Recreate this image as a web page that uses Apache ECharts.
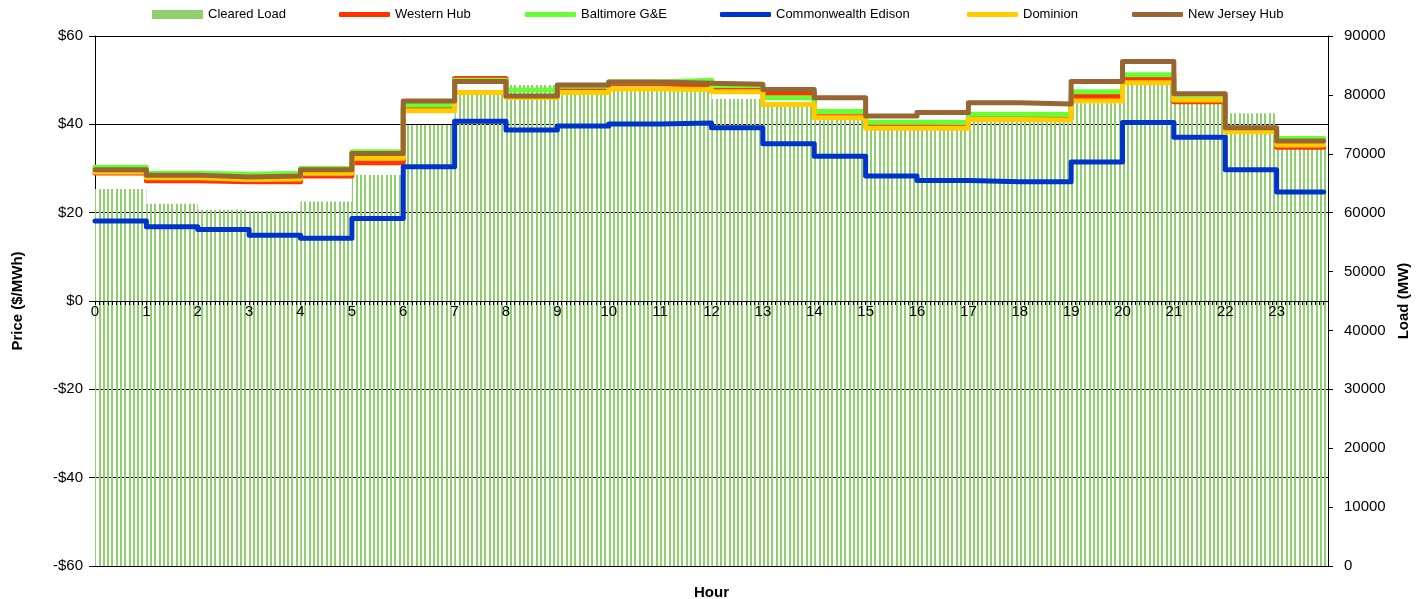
<!DOCTYPE html>
<html>
<head>
<meta charset="utf-8">
<script src="https://cdn.jsdelivr.net/npm/echarts@6/dist/echarts.min.js"></script>
<style>
html,body{margin:0;padding:0;background:#fff;overflow:hidden;}
#chart{width:1421px;height:599px;}
</style>
</head>
<body>
<div id="chart"></div>
<script>
// ---- data ----
const hours = [0,1,2,3,4,5,6,7,8,9,10,11,12,13,14,15,16,17,18,19,20,21,22,23];
const clearedLoad = [64000,61500,60500,60300,61900,66400,74900,80100,81700,80300,80700,80700,79300,78100,76400,75600,75100,75700,76100,78600,81700,78600,76900,71000];
const westernHub  = [29.0,27.2,27.0,27.0,28.3,31.3,43.6,50.4,46.3,48.2,49.2,48.8,48.3,47.0,41.7,39.6,39.4,41.4,41.4,46.3,50.2,45.1,38.6,34.8];
const baltimore   = [30.3,28.9,28.7,28.9,30.0,33.8,44.4,50.0,47.8,48.6,49.6,50.0,48.8,46.0,42.9,40.5,40.4,42.3,42.2,47.4,51.2,45.8,38.8,36.8];
const comEd       = [18.1,16.8,16.2,14.9,14.2,18.7,30.4,40.7,38.7,39.6,40.1,40.3,39.2,35.6,32.8,28.3,27.3,27.0,27.0,31.5,40.4,37.1,29.7,24.7];
const dominion    = [29.2,27.9,27.5,27.6,28.9,32.3,43.1,47.2,46.1,47.2,48.0,47.9,47.4,44.5,41.5,39.1,39.1,41.1,41.0,45.3,49.4,45.5,38.3,35.3];
const njHub       = [29.7,28.5,28.1,28.3,29.7,33.4,45.3,49.7,46.4,48.9,49.6,49.3,49.1,47.9,46.0,41.9,42.7,44.9,44.6,49.7,54.2,46.9,39.2,36.2];
const priceTicks = [-60,-40,-20,0,20,40,60];

// ---- styles ----
const FONT = "'Liberation Sans', Arial, sans-serif";
const C = {
  load: '#8fcf6e', west: '#ff3300', balt: '#66ff33',
  comed: '#0033cc', dom: '#ffcc00', nj: '#996633'
};

function stripePattern(color){
  const c = document.createElement('canvas');
  c.width = 30; c.height = 8;
  const ctx = c.getContext('2d');
  ctx.fillStyle = color;
  [0,4,9,13,17,21,26].forEach(x => ctx.fillRect(x, 0, 2, 8));
  return c;
}

function stepData(arr){
  const d = hours.map((h,i) => [h, arr[i]]);
  d.push([hours[hours.length-1] + 11/12, arr[arr.length-1]]);
  return d;
}

function lineSeries(name, arr, color){
  return {
    name: name, type: 'line', xAxisIndex: 0, yAxisIndex: 0,
    data: stepData(arr), step: 'end', symbol: 'none', z: 3,
    color: color,
    lineStyle: { color: color, width: 5, cap: 'round', join: 'round' },
    emphasis: { disabled: true }
  };
}

function fmtPrice(v){ return v < 0 ? '-$' + Math.abs(v) : '$' + v; }

const legendDefs = [
  { name: 'Cleared Load', left: 152, icon: 'rect', h: 9, itemStyle: { color: C.load } },
  { name: 'Western Hub', left: 339, icon: 'roundRect', h: 5 },
  { name: 'Baltimore G&E', left: 525, icon: 'roundRect', h: 5 },
  { name: 'Commonwealth Edison', left: 720, icon: 'roundRect', h: 5 },
  { name: 'Dominion', left: 967, icon: 'roundRect', h: 5 },
  { name: 'New Jersey Hub', left: 1132, icon: 'roundRect', h: 5 }
];

const option = {
  animation: false,
  backgroundColor: '#fff',
  textStyle: { fontFamily: FONT, color: '#000' },
  legend: legendDefs.map(l => {
    const item = { name: l.name, icon: l.icon };
    if (l.itemStyle) item.itemStyle = l.itemStyle;
    return {
      data: [item], left: l.left, top: 8, padding: 0,
      itemWidth: 51, itemHeight: l.h, selectedMode: false,
      textStyle: { fontSize: 13, fontFamily: FONT, color: '#000' }
    };
  }),
  grid: { left: 95, right: 93, top: 36, bottom: 33, containLabel: false, outerBoundsMode: 'none' },
  xAxis: [
    {
      type: 'value', min: 0, max: 24, interval: 1, z: 4, position: 'bottom', offset: 0,
      axisLine: { show: true, onZero: false, lineStyle: { color: '#000', width: 1 } },
      axisTick: { show: true, length: 4, lineStyle: { color: '#000' } },
      minorTick: { show: true, splitNumber: 12, length: 4, lineStyle: { color: '#000' } },
      splitLine: { show: false },
      axisLabel: {
        show: true, margin: 3, fontSize: 15, fontFamily: FONT, color: '#000',
        formatter: v => (v >= 24 ? '' : String(v))
      }
    },
    {
      type: 'category', data: hours.map(String), position: 'bottom',
      axisLine: { show: false, onZero: false }, axisTick: { show: false },
      axisLabel: { show: false }, splitLine: { show: false },
      name: 'Hour', nameLocation: 'middle', nameGap: 19,
      nameTextStyle: { fontSize: 15, fontWeight: 'bold', fontFamily: FONT, color: '#000' }
    }
  ],
  yAxis: [
    {
      type: 'value', min: priceTicks[0], max: priceTicks[priceTicks.length-1], interval: 20,
      position: 'left',
      axisLine: { show: true, onZero: false, lineStyle: { color: '#000', width: 1 } },
      axisTick: { show: true, length: 6, lineStyle: { color: '#000' } },
      splitLine: { show: true, lineStyle: { color: '#000', width: 1 } },
      axisLabel: { margin: 12, fontSize: 15, fontFamily: FONT, color: '#000', formatter: fmtPrice },
      name: 'Price ($/MWh)', nameLocation: 'middle', nameGap: 70, nameRotate: 90,
      nameTextStyle: { fontSize: 15, fontWeight: 'bold', fontFamily: FONT, color: '#000' }
    },
    {
      type: 'value', min: 0, max: 90000, interval: 10000, position: 'right',
      axisLine: { show: true, onZero: false, lineStyle: { color: '#000', width: 1 } },
      axisTick: { show: true, length: 5, lineStyle: { color: '#000' } },
      splitLine: { show: false },
      axisLabel: { margin: 16, fontSize: 15, fontFamily: FONT, color: '#000', formatter: v => String(v) },
      name: 'Load (MW)', nameLocation: 'middle', nameGap: 68, nameRotate: 90,
      nameTextStyle: { fontSize: 15, fontWeight: 'bold', fontFamily: FONT, color: '#000' }
    }
  ],
  series: [
    {
      name: 'Cleared Load', type: 'bar', xAxisIndex: 1, yAxisIndex: 1,
      data: clearedLoad, barWidth: '100%', barGap: '0%', z: 2,
      itemStyle: { color: { image: stripePattern(C.load), repeat: 'repeat' } },
      emphasis: { disabled: true }
    },
    lineSeries('Western Hub', westernHub, C.west),
    lineSeries('Baltimore G&E', baltimore, C.balt),
    lineSeries('Commonwealth Edison', comEd, C.comed),
    lineSeries('Dominion', dominion, C.dom),
    lineSeries('New Jersey Hub', njHub, C.nj)
  ]
};

const chart = echarts.init(document.getElementById('chart'), null, { renderer: 'canvas' });
chart.setOption(option);
// place the hour axis on the $0 line of the price axis (using the library's own scale)
const yZero = chart.convertToPixel({ yAxisIndex: 0 }, 0);
const yBottom = chart.convertToPixel({ yAxisIndex: 0 }, priceTicks[0]);
chart.setOption({ xAxis: [{ offset: -(yBottom - yZero) }, {}] });
</script>
</body>
</html>
